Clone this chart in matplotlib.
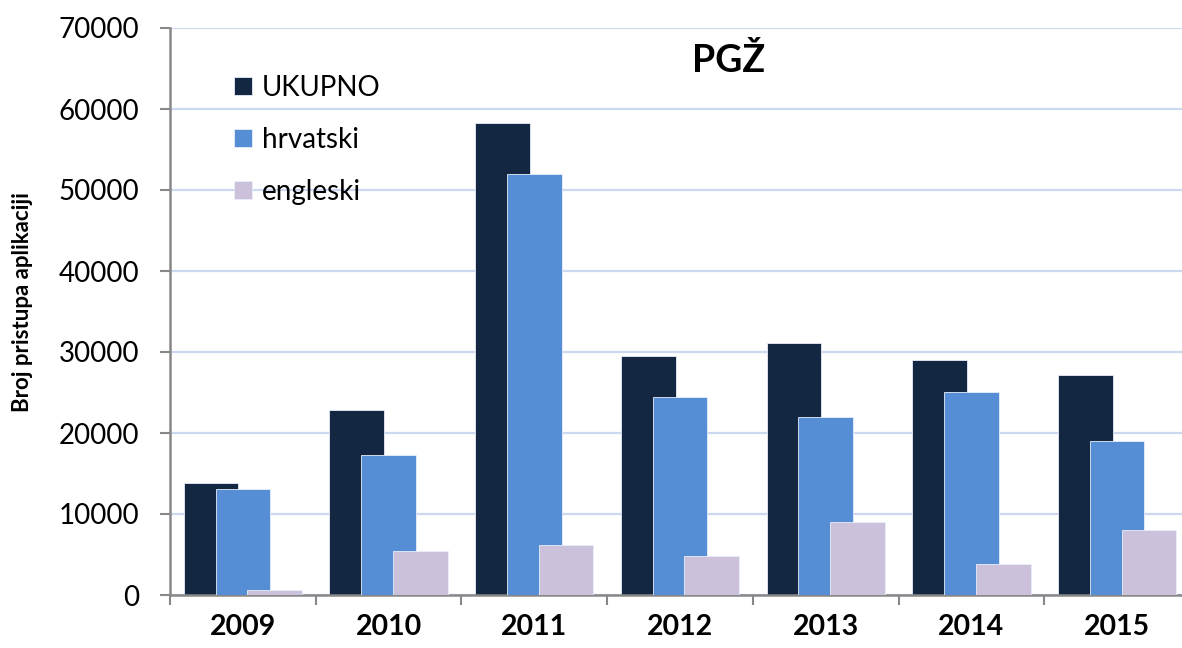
import matplotlib
matplotlib.use('Agg')
import matplotlib.pyplot as plt
import numpy as np

# podaci ocitani sa slike
godine = ['2009', '2010', '2011', '2012', '2013', '2014', '2015']
ukupno = [13800, 22900, 58300, 29500, 31100, 29000, 27100]
hrvatski = [13100, 17300, 52000, 24500, 22000, 25100, 19000]
engleski = [600, 5400, 6200, 4800, 9000, 3800, 8000]
serije = ['UKUPNO', 'hrvatski', 'engleski']
boje = ['#132743', '#558ed5', '#ccc1da']

plt.rcParams['font.family'] = ['Lato', 'DejaVu Sans']

fig = plt.figure(figsize=(11.82, 6.48), dpi=100)
ax = fig.add_axes([170/1182, 1-595/648, 1020/1182, 567/648])

x = np.arange(len(godine))
w = 0.375
dx = 0.218
for i, (vals, lab) in enumerate(zip([ukupno, hrvatski, engleski], serije)):
    ax.bar(x + (i-1)*dx, vals, w, color=boje[i], label=lab, zorder=2+i,
           edgecolor='#e8eef8', linewidth=0.6)

ax.set_xlim(-0.5, 6.5)
ax.set_ylim(0, 70000)
ax.set_yticks(np.arange(0, 70001, 10000))
ax.yaxis.grid(True, color='#ccd8ef', lw=1.6, zorder=0)
ax.set_axisbelow(True)

ax.set_xticks(x)
ax.set_xticklabels(godine, fontsize=20.5, fontweight='bold')
ax.set_xticks(np.arange(-0.5, 7, 1), minor=True)
ax.tick_params(axis='x', which='major', length=0, pad=14)
ax.tick_params(axis='x', which='minor', length=7, width=1.5, color='#888888', direction='out')
ax.tick_params(axis='y', length=7, width=1.5, color='#888888', labelsize=20, pad=15)

for s in ['top', 'right']:
    ax.spines[s].set_visible(False)
for s in ['left', 'bottom']:
    ax.spines[s].set_color('#888888')
    ax.spines[s].set_linewidth(1.8)

fig.text(23/1182, 1-302/648, 'Broj pristupa aplikaciji', rotation=90,
         fontsize=16, fontweight='bold', ha='center', va='center')
fig.text(729/1182, 1-72/648, 'PGŽ', fontsize=27, fontweight='bold',
         ha='center', va='baseline')

ax.legend(loc='upper left', bbox_to_anchor=(234/1182, 1-75/648),
          bbox_transform=fig.transFigure, frameon=False, fontsize=20,
          handlelength=0.64, handleheight=0.64, handletextpad=0.35,
          labelspacing=0.93, borderpad=0, borderaxespad=0)

fig.savefig('out.png', dpi=100)
